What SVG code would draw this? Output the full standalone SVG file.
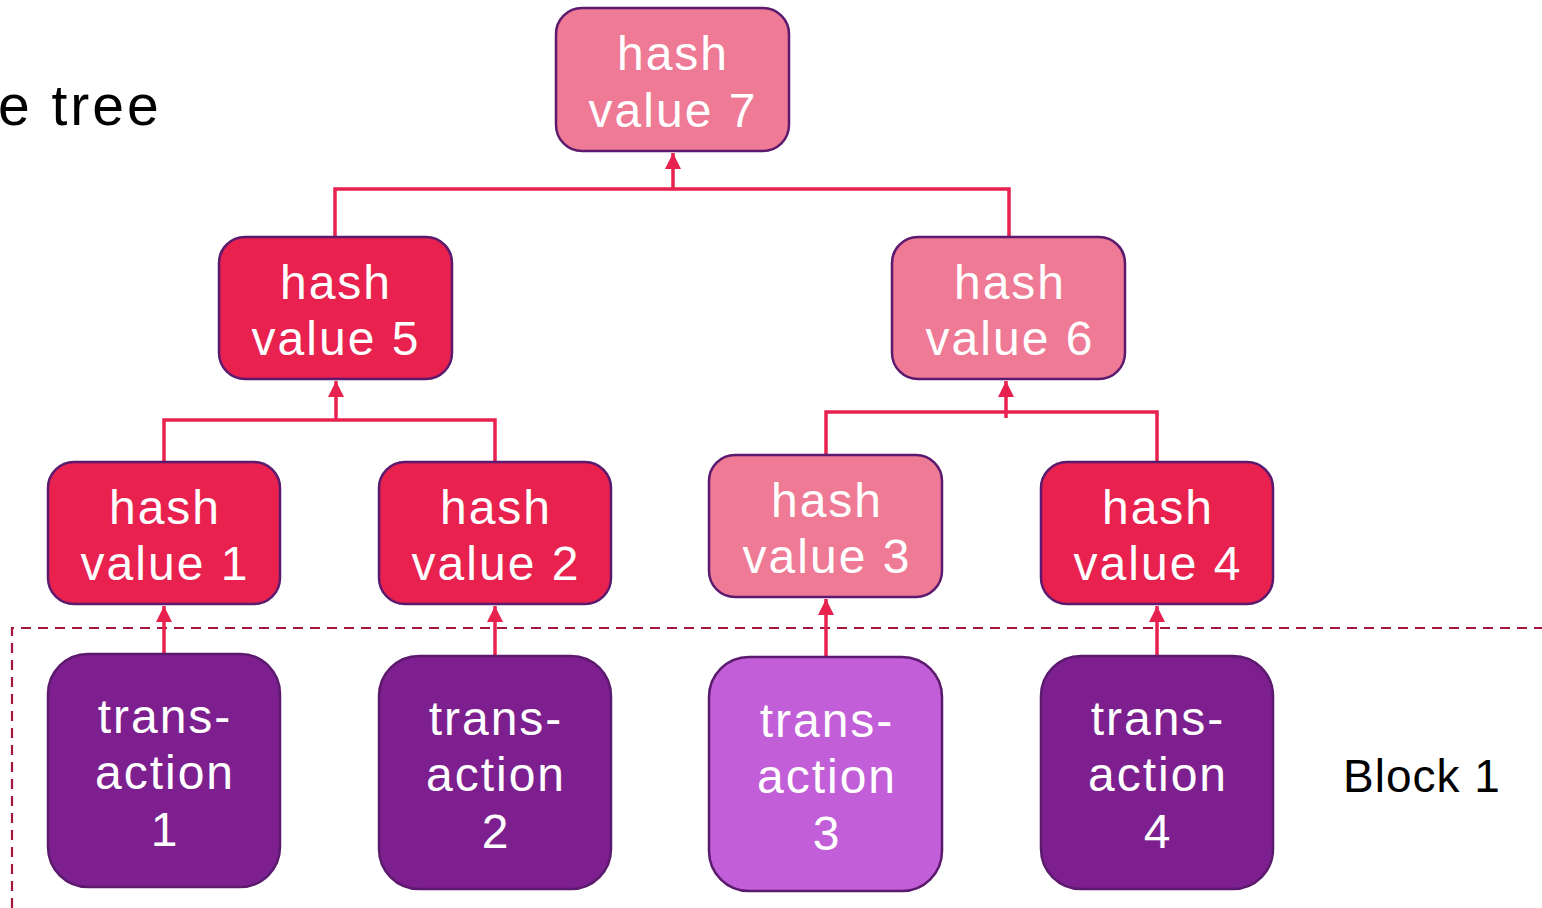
<svg xmlns="http://www.w3.org/2000/svg" width="1542" height="908" viewBox="0 0 1542 908">
<defs>
<style>
.n{stroke:#5C1A6E;stroke-width:2.5}
.red{fill:#E8214F}
.pink{fill:#EF7A95}
.tx{fill:#7D1F8F}
.tx3{fill:#C25ED8}
.t{font-family:"Liberation Sans",Arial,sans-serif;font-size:48px;letter-spacing:2px;fill:#ffffff;text-anchor:middle}
.k{font-family:"Liberation Sans",Arial,sans-serif;fill:#000000}
.c{fill:none;stroke:#E8214F;stroke-width:3.5}
.d{fill:none;stroke:#A3173D;stroke-width:2.2;stroke-dasharray:10 7}
</style>
<marker id="ah" viewBox="0 0 10 10" refX="10" refY="5" markerWidth="4.6" markerHeight="4.6" orient="auto" markerUnits="strokeWidth">
<path d="M0,0 L10,5 L0,10 z" fill="#E8214F"/>
</marker>
</defs>
<rect width="1542" height="908" fill="#ffffff"/>
<text class="k" x="-2" y="125" font-size="57" letter-spacing="3">e tree</text>
<text class="k" x="1343" y="792" font-size="46" letter-spacing="1">Block 1</text>
<g id="block">
<path class="d" d="M12,908 L12,628 L1542,628"/>
</g>
<g id="connectors">
<path class="c" d="M335,237 V189 H1009 V237"/>
<path class="c" d="M673,189 V153" marker-end="url(#ah)"/>
<path class="c" d="M164,462 V420 H495 V462"/>
<path class="c" d="M336,420 V381" marker-end="url(#ah)"/>
<path class="c" d="M826,455 V412 H1157 V462"/>
<path class="c" d="M1006,418 V381" marker-end="url(#ah)"/>
<path class="c" d="M164,654 V606" marker-end="url(#ah)"/>
<path class="c" d="M495,656 V606" marker-end="url(#ah)"/>
<path class="c" d="M826,656 V599" marker-end="url(#ah)"/>
<path class="c" d="M1157,656 V606" marker-end="url(#ah)"/>
</g>
<g id="hv7"><rect class="n pink" x="556" y="8" width="233" height="143" rx="26"/><text class="t" x="673" y="70">hash</text><text class="t" x="673" y="127">value 7</text></g>
<g id="hv5"><rect class="n red" x="219" y="237" width="233" height="142" rx="26"/><text class="t" x="336" y="299">hash</text><text class="t" x="336" y="355">value 5</text></g>
<g id="hv6"><rect class="n pink" x="892" y="237" width="233" height="142" rx="26"/><text class="t" x="1010" y="299">hash</text><text class="t" x="1010" y="355">value 6</text></g>
<g id="hv1"><rect class="n red" x="48" y="462" width="232" height="142" rx="26"/><text class="t" x="165" y="524">hash</text><text class="t" x="165" y="580">value 1</text></g>
<g id="hv2"><rect class="n red" x="379" y="462" width="232" height="142" rx="26"/><text class="t" x="496" y="524">hash</text><text class="t" x="496" y="580">value 2</text></g>
<g id="hv3"><rect class="n pink" x="709" y="455" width="233" height="142" rx="26"/><text class="t" x="827" y="517">hash</text><text class="t" x="827" y="573">value 3</text></g>
<g id="hv4"><rect class="n red" x="1041" y="462" width="232" height="142" rx="26"/><text class="t" x="1158" y="524">hash</text><text class="t" x="1158" y="580">value 4</text></g>
<g id="tx1"><rect class="n tx" x="48" y="654" width="232" height="233" rx="40"/><text class="t" x="165" y="733">trans-</text><text class="t" x="165" y="789">action</text><text class="t" x="165" y="846">1</text></g>
<g id="tx2"><rect class="n tx" x="379" y="656" width="232" height="233" rx="40"/><text class="t" x="496" y="735">trans-</text><text class="t" x="496" y="791">action</text><text class="t" x="496" y="848">2</text></g>
<g id="tx3"><rect class="n tx3" x="709" y="657" width="233" height="234" rx="40"/><text class="t" x="827" y="737">trans-</text><text class="t" x="827" y="793">action</text><text class="t" x="827" y="850">3</text></g>
<g id="tx4"><rect class="n tx" x="1041" y="656" width="232" height="233" rx="40"/><text class="t" x="1158" y="735">trans-</text><text class="t" x="1158" y="791">action</text><text class="t" x="1158" y="848">4</text></g>
</svg>
